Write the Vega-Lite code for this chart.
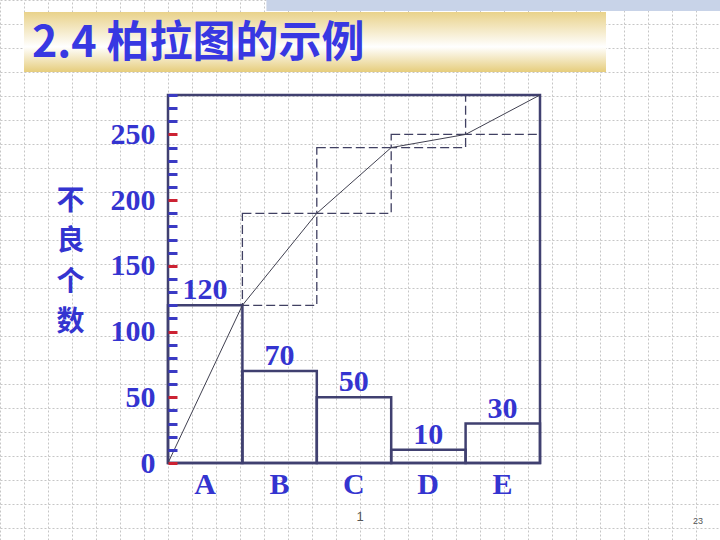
{
  "$schema": "https://vega.github.io/schema/vega-lite/v6.json",
  "width": 720,
  "height": 540,
  "autosize": {"type": "none"},
  "padding": 0,
  "background": "#ffffff",
  "config": {"view": {"stroke": null}},
  "datasets": {
    "defects": [
      {"category": "A", "count": 120, "x0": 0, "x1": 1, "cumFrom": 0, "cumTo": 120},
      {"category": "B", "count": 70, "x0": 1, "x1": 2, "cumFrom": 120, "cumTo": 190},
      {"category": "C", "count": 50, "x0": 2, "x1": 3, "cumFrom": 190, "cumTo": 240},
      {"category": "D", "count": 10, "x0": 3, "x1": 4, "cumFrom": 240, "cumTo": 250},
      {"category": "E", "count": 30, "x0": 4, "x1": 5, "cumFrom": 250, "cumTo": 280}
    ],
    "cumulative": [
      {"k": 0, "cum": 0},
      {"k": 1, "cum": 120},
      {"k": 2, "cum": 190},
      {"k": 3, "cum": 240},
      {"k": 4, "cum": 250},
      {"k": 5, "cum": 280}
    ]
  },
  "layer": [
    {
      "data": {"values": [{"item": "banner"}]},
      "mark": {
        "type": "rect",
        "fill": {
          "gradient": "linear",
          "x1": 0, "y1": 0, "x2": 0, "y2": 1,
          "stops": [
            {"offset": 0, "color": "#e9d28a"},
            {"offset": 0.58, "color": "#ffffff"},
            {"offset": 1, "color": "#e6cd7c"}
          ]
        }
      },
      "encoding": {
        "x": {
          "datum": 1, "type": "quantitative",
          "scale": {"domain": [0, 30], "nice": false, "zero": false},
          "axis": {"orient": "bottom", "grid": true, "domain": false, "ticks": false, "labels": false, "title": null, "tickCount": 30, "gridColor": "#c6c6c6", "gridDash": [2, 2], "gridWidth": 1}
        },
        "x2": {"datum": 25.25},
        "y": {
          "datum": 0.5, "type": "quantitative",
          "scale": {"domain": [0, 22.5], "nice": false, "zero": false, "reverse": true},
          "axis": {"orient": "left", "grid": true, "domain": false, "ticks": false, "labels": false, "title": null, "tickCount": 22, "gridColor": "#c6c6c6", "gridDash": [2, 2], "gridWidth": 1}
        },
        "y2": {"datum": 3}
      }
    },
    {
      "data": {"values": [{"item": "band"}]},
      "mark": {"type": "rect", "fill": "#c8d3e8"},
      "encoding": {
        "x": {"datum": 11.1, "type": "quantitative", "scale": {"domain": [0, 30], "nice": false, "zero": false}, "axis": null},
        "x2": {"datum": 30},
        "y": {"datum": 0, "type": "quantitative", "scale": {"domain": [0, 22.5], "nice": false, "zero": false, "reverse": true}, "axis": null},
        "y2": {"datum": 0.46}
      }
    },
    {
      "data": {"values": [{"title": "2.4 柏拉图的示例"}]},
      "mark": {"type": "text", "align": "left", "baseline": "middle", "font": "Noto Sans CJK SC", "fontWeight": "bold", "fontSize": 43, "color": "#3838e2"},
      "encoding": {
        "x": {"datum": 1.33, "type": "quantitative", "scale": {"domain": [0, 30], "nice": false, "zero": false}, "axis": null},
        "y": {"datum": 1.83, "type": "quantitative", "scale": {"domain": [0, 22.5], "nice": false, "zero": false, "reverse": true}, "axis": null},
        "text": {"field": "title"}
      }
    },
    {
      "data": {"values": [{"page": "1"}]},
      "mark": {"type": "text", "align": "center", "baseline": "middle", "font": "Liberation Sans", "fontSize": 13, "color": "#555555"},
      "encoding": {
        "x": {"datum": 15, "type": "quantitative", "scale": {"domain": [0, 30], "nice": false, "zero": false}, "axis": null},
        "y": {"datum": 21.55, "type": "quantitative", "scale": {"domain": [0, 22.5], "nice": false, "zero": false, "reverse": true}, "axis": null},
        "text": {"field": "page"}
      }
    },
    {
      "data": {"values": [{"page": "23"}]},
      "mark": {"type": "text", "align": "center", "baseline": "middle", "font": "Liberation Sans", "fontSize": 9, "color": "#555555"},
      "encoding": {
        "x": {"datum": 29.08, "type": "quantitative", "scale": {"domain": [0, 30], "nice": false, "zero": false}, "axis": null},
        "y": {"datum": 21.7, "type": "quantitative", "scale": {"domain": [0, 22.5], "nice": false, "zero": false, "reverse": true}, "axis": null},
        "text": {"field": "page"}
      }
    },
    {
      "data": {"name": "defects"},
      "transform": [{"filter": "datum.category != 'A'"}],
      "mark": {"type": "rect", "fill": "transparent", "stroke": "#404062", "strokeWidth": 1.3, "strokeDash": [9, 4]},
      "encoding": {
        "x": {"field": "x0", "type": "quantitative", "scale": {"domain": [0, 5], "range": [168, 540], "nice": false, "zero": false}, "axis": null},
        "x2": {"field": "x1"},
        "y": {
          "field": "cumFrom", "type": "quantitative",
          "scale": {"domain": [0, 280], "range": [463, 95], "nice": false, "zero": false},
          "axis": {
            "orient": "left",
            "offset": -168,
            "values": [0, 10, 20, 30, 40, 50, 60, 70, 80, 90, 100, 110, 120, 130, 140, 150, 160, 170, 180, 190, 200, 210, 220, 230, 240, 250, 260, 270, 280],
            "domain": false,
            "grid": false,
            "ticks": true,
            "tickSize": -9,
            "tickWidth": 3,
            "tickColor": {"condition": {"test": "datum.value % 50 === 0", "value": "#cc2233"}, "value": "#3a3ac4"},
            "labelExpr": "datum.value % 50 === 0 ? datum.label : ''",
            "labelOverlap": false,
            "labelFlush": false,
            "labelFont": "Liberation Serif",
            "labelFontSize": 30,
            "labelFontWeight": "bold",
            "labelColor": "#3434d0",
            "labelPadding": 22,
            "title": ["不", "良", "个", "数"],
            "titleAngle": 0,
            "titleX": -98,
            "titleY": 187,
            "titleAlign": "center",
            "titleBaseline": "top",
            "titleFont": "Noto Sans CJK SC",
            "titleFontSize": 28,
            "titleFontWeight": "bold",
            "titleColor": "#3434d0",
            "titleLineHeight": 40.5,
            "zindex": 1
          }
        },
        "y2": {"field": "cumTo"}
      }
    },
    {
      "data": {"name": "defects"},
      "mark": {"type": "rect", "fill": "transparent", "stroke": "#404070", "strokeWidth": 2.5},
      "encoding": {
        "x": {"field": "x0", "type": "quantitative", "scale": {"domain": [0, 5], "range": [168, 540], "nice": false, "zero": false}, "axis": null},
        "x2": {"field": "x1"},
        "y": {"field": "count", "type": "quantitative", "scale": {"domain": [0, 280], "range": [463, 95], "nice": false, "zero": false}, "axis": null},
        "y2": {"datum": 0}
      }
    },
    {
      "data": {"values": [{"item": "frame"}]},
      "mark": {"type": "rect", "fill": "transparent", "stroke": "#404070", "strokeWidth": 2.5},
      "encoding": {
        "x": {"datum": 0, "type": "quantitative", "scale": {"domain": [0, 5], "range": [168, 540], "nice": false, "zero": false}, "axis": null},
        "x2": {"datum": 5},
        "y": {"datum": 0, "type": "quantitative", "scale": {"domain": [0, 280], "range": [463, 95], "nice": false, "zero": false}, "axis": null},
        "y2": {"datum": 280}
      }
    },
    {
      "data": {"name": "cumulative"},
      "mark": {"type": "line", "stroke": "#404050", "strokeWidth": 1},
      "encoding": {
        "x": {"field": "k", "type": "quantitative", "scale": {"domain": [0, 5], "range": [168, 540], "nice": false, "zero": false}, "axis": null},
        "y": {"field": "cum", "type": "quantitative", "scale": {"domain": [0, 280], "range": [463, 95], "nice": false, "zero": false}, "axis": null}
      }
    },
    {
      "data": {"name": "defects"},
      "mark": {"type": "text", "align": "center", "baseline": "alphabetic", "dx": 37, "dy": -6, "font": "Liberation Serif", "fontSize": 30, "fontWeight": "bold", "color": "#3434d0"},
      "encoding": {
        "x": {"field": "x0", "type": "quantitative", "scale": {"domain": [0, 5], "range": [168, 540], "nice": false, "zero": false}, "axis": null},
        "y": {"field": "count", "type": "quantitative", "scale": {"domain": [0, 280], "range": [463, 95], "nice": false, "zero": false}, "axis": null},
        "text": {"field": "count"}
      }
    },
    {
      "data": {"name": "defects"},
      "mark": {"type": "text", "align": "center", "baseline": "alphabetic", "dx": 37, "dy": 31, "font": "Liberation Serif", "fontSize": 30, "fontWeight": "bold", "color": "#3434d0"},
      "encoding": {
        "x": {"field": "x0", "type": "quantitative", "scale": {"domain": [0, 5], "range": [168, 540], "nice": false, "zero": false}, "axis": null},
        "y": {"datum": 0, "type": "quantitative", "scale": {"domain": [0, 280], "range": [463, 95], "nice": false, "zero": false}, "axis": null},
        "text": {"field": "category"}
      }
    }
  ],
  "resolve": {"scale": {"x": "independent", "y": "independent"}}
}
